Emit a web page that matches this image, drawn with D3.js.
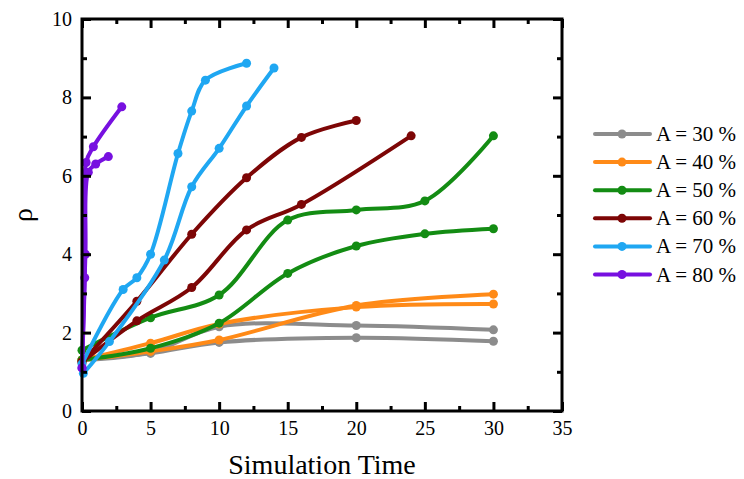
<!DOCTYPE html>
<html>
<head>
<meta charset="utf-8">
<script src="https://cdn.jsdelivr.net/npm/d3@7"></script>
<style>
  body { margin: 0; background: #fff; }
  svg text { font-family: "Liberation Serif", "Times New Roman", Times, "DejaVu Serif", serif !important; }
</style>
</head>
<body>
<svg id="chart" width="744" height="479"></svg>
<script>
// Each A value has two runs, [time, rho]
const labels = ['A = 30 %', 'A = 40 %', 'A = 50 %', 'A = 60 %', 'A = 70 %', 'A = 80 %'];
const colors = ['#8c8c8c', '#ff8a17', '#138c13', '#7d0606', '#1fa7f2', '#7710e0'];

const runs30 = [
  [[0, 1.3], [5, 1.5], [10, 2.15], [20, 2.18], [30, 2.07]],
  [[0, 1.3], [5, 1.47], [10, 1.75], [20, 1.87], [30, 1.78]]
];
const runs40 = [
  [[0, 1.3], [5, 1.73], [10, 2.22], [20, 2.65], [30, 2.73]],
  [[0, 1.3], [5, 1.52], [10, 1.81], [20, 2.69], [30, 2.98]]
];
const runs50 = [
  [[0, 1.55], [5, 2.38], [10, 2.96], [15, 4.87], [20, 5.13], [25, 5.36], [30, 7.02]],
  [[0, 1.3], [5, 1.6], [10, 2.24], [15, 3.51], [20, 4.21], [25, 4.52], [30, 4.65]]
];
const runs60 = [
  [[0, 1.25], [4, 2.8], [8, 4.51], [12, 5.95], [16, 6.98], [20, 7.41]],
  [[0, 1.25], [4, 2.3], [8, 3.15], [12, 4.62], [16, 5.27], [24, 7.02]]
];
const runs70 = [
  [[0, 1.2], [3, 3.1], [4, 3.4], [5, 4.0], [7, 6.57], [8, 7.65], [9, 8.44], [12, 8.87]],
  [[0.1, 0.96], [2, 1.77], [6, 3.85], [8, 5.72], [10, 6.7], [12, 7.78], [14, 8.75]]
];
const runs80 = [
  [[0, 1.1], [0.2, 3.4], [0.3, 6.34], [0.83, 6.74], [2.9, 7.76]],
  [[0, 1.1], [0.25, 4.0], [0.46, 6.09], [1.0, 6.3], [1.92, 6.49]]
];
const allRuns = [runs30, runs40, runs50, runs60, runs70, runs80];

const xTicks = [0, 5, 10, 15, 20, 25, 30, 35];
const yTicks = [0, 2, 4, 6, 8, 10];

const svg = d3.select('#chart');
const m = { left: 82, right: 562, top: 19, bottom: 411 };
const serif = '"Liberation Serif", "Times New Roman", Times, serif';

const x = d3.scaleLinear().domain([0, 35]).range([m.left, m.right]);
const y = d3.scaleLinear().domain([0, 10]).range([m.bottom, m.top]);

// Data lines
const line = d3.line()
  .x(d => x(d[0]))
  .y(d => y(d[1]))
  .curve(d3.curveCatmullRom.alpha(0.5));

const plot = svg.append('g');
allRuns.forEach((runs, i) => {
  runs.forEach(run => {
    plot.append('path')
      .attr('d', line(run))
      .attr('fill', 'none')
      .attr('stroke', colors[i])
      .attr('stroke-width', 4)
      .attr('stroke-linecap', 'round');
    plot.selectAll(null).data(run).join('circle')
      .attr('cx', d => x(d[0]))
      .attr('cy', d => y(d[1]))
      .attr('r', 4.5)
      .attr('fill', colors[i]);
  });
});

// Axes with ticks on all four sides, pointing inward
const xMinor = d3.range(2.5, 35, 5);
const yMinor = d3.range(1, 10, 2);

const axisStyle = g => {
  g.attr('font-family', serif);
  g.select('.domain').remove();
  g.selectAll('line').attr('stroke', '#000').attr('stroke-width', 3);
  g.selectAll('text').attr('fill', '#000').attr('font-family', serif).style('font-size', '20px');
};

svg.append('g').attr('transform', `translate(0,${m.bottom})`)
  .call(d3.axisBottom(x).tickValues(xTicks).tickSize(-9).tickPadding(10)).call(axisStyle);
svg.append('g').attr('transform', `translate(0,${m.bottom})`)
  .call(d3.axisBottom(x).tickValues(xMinor).tickSize(-5).tickFormat('')).call(axisStyle);
svg.append('g').attr('transform', `translate(0,${m.top})`)
  .call(d3.axisTop(x).tickValues(xTicks).tickSize(-9).tickFormat('')).call(axisStyle);
svg.append('g').attr('transform', `translate(0,${m.top})`)
  .call(d3.axisTop(x).tickValues(xMinor).tickSize(-5).tickFormat('')).call(axisStyle);

svg.append('g').attr('transform', `translate(${m.left},0)`)
  .call(d3.axisLeft(y).tickValues(yTicks).tickSize(-9).tickPadding(10)).call(axisStyle);
svg.append('g').attr('transform', `translate(${m.left},0)`)
  .call(d3.axisLeft(y).tickValues(yMinor).tickSize(-5).tickFormat('')).call(axisStyle);
svg.append('g').attr('transform', `translate(${m.right},0)`)
  .call(d3.axisRight(y).tickValues(yTicks).tickSize(-9).tickFormat('')).call(axisStyle);
svg.append('g').attr('transform', `translate(${m.right},0)`)
  .call(d3.axisRight(y).tickValues(yMinor).tickSize(-5).tickFormat('')).call(axisStyle);

// Frame
svg.append('rect')
  .attr('x', m.left).attr('y', m.top)
  .attr('width', m.right - m.left).attr('height', m.bottom - m.top)
  .attr('fill', 'none').attr('stroke', '#000').attr('stroke-width', 3);

// Axis titles
svg.append('text')
  .attr('x', (m.left + m.right) / 2).attr('y', 474)
  .attr('text-anchor', 'middle')
  .attr('font-family', serif)
  .style('font-size', '28px')
  .text('Simulation Time');

svg.append('text')
  .attr('transform', `translate(32,${(m.top + m.bottom) / 2}) rotate(-90)`)
  .attr('text-anchor', 'middle')
  .attr('font-family', serif)
  .style('font-size', '28px')
  .text('ρ');

// Legend
const legend = svg.append('g');
labels.forEach((lab, i) => {
  const ly = 134 + i * 28.1;
  legend.append('line')
    .attr('x1', 595).attr('x2', 650).attr('y1', ly).attr('y2', ly)
    .attr('stroke', colors[i]).attr('stroke-width', 4).attr('stroke-linecap', 'round');
  legend.append('circle').attr('cx', 622).attr('cy', ly).attr('r', 4.5).attr('fill', colors[i]);
  legend.append('text')
    .attr('x', 656).attr('y', ly + 7)
    .attr('font-family', serif)
    .style('font-size', '21px')
    .text(lab);
});
</script>
</body>
</html>
